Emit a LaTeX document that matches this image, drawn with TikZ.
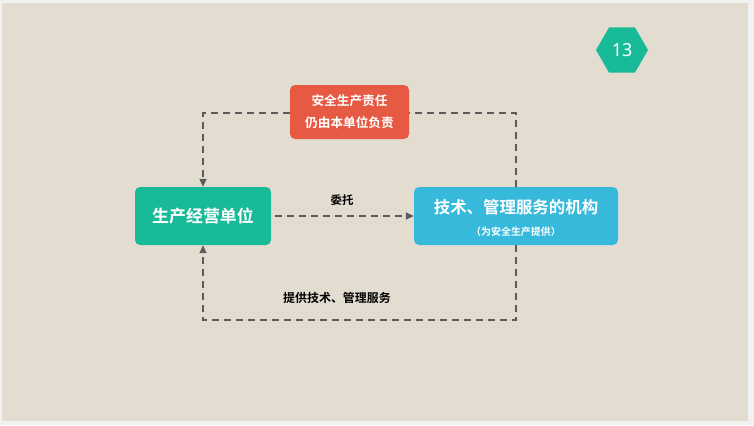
\documentclass[tikz,border=0pt]{standalone}
\usepackage{fontspec}
\setmainfont{Noto Sans}
\newfontfamily\cjk{Noto Sans CJK SC}[BoldFont={Noto Sans CJK SC Bold}]
\usetikzlibrary{arrows.meta,shapes.geometric}
\definecolor{bgpage}{HTML}{F1F1F1}
\definecolor{bgslide}{HTML}{E3DDD1}
\definecolor{cgreen}{HTML}{19BA98}
\definecolor{cred}{HTML}{E65A44}
\definecolor{cblue}{HTML}{37B9DC}
\definecolor{cline}{HTML}{5C5C5C}
\tikzset{
  box/.style={rounded corners=5bp, inner sep=0pt, text=white, font=\cjk\bfseries, align=center},
  conn/.style={draw=cline, line width=1.8bp, dash pattern=on 7bp off 5bp},
  tip/.style={-{Triangle[length=8bp,width=7bp]}},
  lbl/.style={font=\cjk\bfseries\fontsize{12}{14}\selectfont, text=black}
}
\begin{document}
\begin{tikzpicture}[x=1bp,y=-1bp]
\useasboundingbox (0,0) rectangle (754,425);
\fill[bgpage] (0,0) rectangle (754,425);
\fill[bgslide] (2,3) rectangle (748,421);
% nodes
\node[box, fill=cgreen, minimum width=136bp, minimum height=58bp, font=\cjk\bfseries\fontsize{17}{20}\selectfont] (prod) at (203,216) {生产经营单位};
\node[box, fill=cblue, minimum width=204bp, minimum height=58bp] (svc) at (516,216) {};
\node[text=white, font=\cjk\bfseries\fontsize{16.5}{20}\selectfont, inner sep=0pt] (svct) at (516,207) {技术、管理服务的机构};
\node[text=white, font=\cjk\bfseries\fontsize{10}{12}\selectfont, inner sep=0pt] (svcs) at (516,232) {（为安全生产提供）};
\coordinate (tr) at (516,113);
\coordinate (tl) at (203,113);
\coordinate (br) at (516,320);
\coordinate (bl) at (203,320);
% connectors
\draw[conn, tip] (svc.north) -- (tr) -- (tl) -- (prod.north);
\draw[conn, tip] (svc.south) -- (br) -- (bl) -- (prod.south);
\draw[conn, tip] ([xshift=4bp]prod.east) -- (svc.west);
% red box on top
\node[box, fill=cred, minimum width=119bp, minimum height=54bp, font=\cjk\bfseries\fontsize{12.7}{22}\selectfont] (resp) at (349.5,112) {安全生产责任\\仍由本单位负责};
% labels
\node[lbl, font=\cjk\bfseries\fontsize{11.5}{14}\selectfont] (l1) at (342,200) {委托};
\node[lbl] (l2) at (337,298) {提供技术、管理服务};
% hexagon
\node[regular polygon, regular polygon sides=6, shape border rotate=0, fill=cgreen, minimum size=52bp, inner sep=0pt, text=white, font=\fontsize{18}{20}\selectfont] (hex) at (622,50) {13};
\end{tikzpicture}
\end{document}
